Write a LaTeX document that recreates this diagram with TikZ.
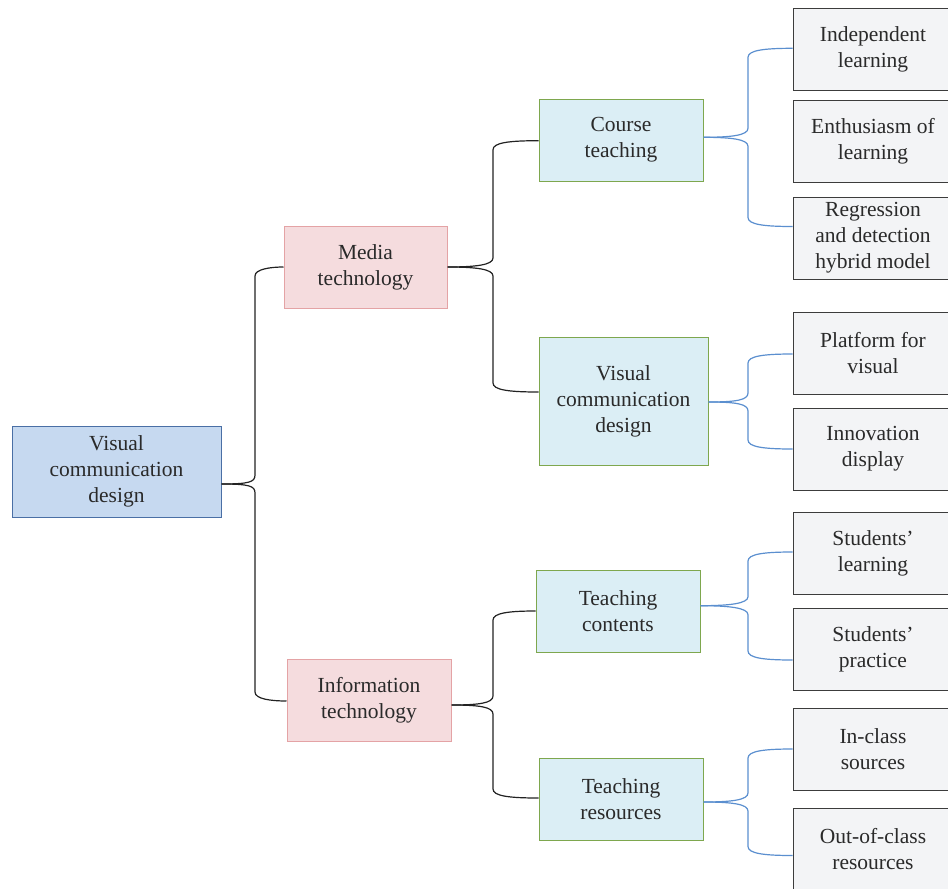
\documentclass[tikz,border=0pt]{standalone}
\usepackage{fontspec}
\setmainfont{Liberation Serif}
\usetikzlibrary{calc}
\definecolor{txt}{HTML}{2A2A2A}
\definecolor{rootfill}{HTML}{C6D9F0}
\definecolor{rootdraw}{HTML}{4A6FA5}
\definecolor{pinkfill}{HTML}{F5DCDE}
\definecolor{pinkdraw}{HTML}{E4A3A5}
\definecolor{midfill}{HTML}{DBEEF5}
\definecolor{middraw}{HTML}{7EA74E}
\definecolor{leaffill}{HTML}{F3F4F6}
\definecolor{leafdraw}{HTML}{3C3C3C}
\definecolor{blueline}{HTML}{5B8FCF}
\definecolor{blackline}{HTML}{222222}
\newcommand\brconn[6]{%
  \draw[#1] let \p1=([yshift=-#3pt]#2.east), \p2=([yshift=-#5pt]#4.west),
    \n1={sign(\y2-\y1)} in
  (\p1) .. controls (\x1+28pt,\y1) and (#6pt,\y1+\n1*2pt) .. (#6pt,\y1+\n1*9pt)
  -- (#6pt,\y2-\n1*9pt) .. controls (#6pt,\y2-\n1*2pt) and (#6pt+16pt,\y2) .. (\p2);}
\begin{document}
\begin{tikzpicture}[x=1pt,y=-1pt,
  box/.style={draw, line width=1pt, align=center, inner sep=0pt, text=txt,
    font=\fontsize{21.5}{26}\selectfont},
  rootbox/.style={box, fill=rootfill, draw=rootdraw, minimum width=209pt, minimum height=91pt},
  pinkbox/.style={box, fill=pinkfill, draw=pinkdraw, minimum width=164pt, minimum height=82pt},
  midbox/.style={box, fill=midfill, draw=middraw, minimum width=164pt, minimum height=82pt},
  leafbox/.style={box, fill=leaffill, draw=leafdraw, minimum width=160pt, minimum height=82pt},
  bk/.style={draw=blackline, line width=1.2pt},
  bl/.style={draw=blueline, line width=1.2pt}]
\useasboundingbox (0,0) rectangle (948,889);
\clip (0,0) rectangle (948,889);
% root
\node[rootbox] (root) at (116.5,471.5) {Visual\\communication\\design};
% second level
\node[pinkbox, minimum width=163pt] (media) at (365.5,267) {Media\\technology};
\node[pinkbox] (info) at (369,700.5) {Information\\technology};
% third level
\node[midbox] (course) at (621,140) {Course\\teaching};
\node[midbox, minimum width=169pt, minimum height=128pt] (vcd) at (623.5,401) {Visual\\communication\\design};
\node[midbox] (tcont) at (618,611) {Teaching\\contents};
\node[midbox] (tres) at (621,799) {Teaching\\resources};
% leaves
\node[leafbox] (l1) at (873,49) {Independent\\learning};
\node[leafbox] (l2) at (873,141) {Enthusiasm of\\learning};
\node[leafbox] (l3) at (873,238) {Regression\\and detection\\hybrid model};
\node[leafbox] (l4) at (873,353) {Platform for\\visual};
\node[leafbox] (l5) at (873,449) {Innovation\\display};
\node[leafbox] (l6) at (873,553) {Students'\\learning};
\node[leafbox] (l7) at (873,649) {Students'\\practice};
\node[leafbox] (l8) at (873,749) {In-class\\sources};
\node[leafbox] (l9) at (873,849) {Out-of-class\\resources};
% black connectors
\brconn{bk}{root}{12.5}{media}{0}{255}
\brconn{bk}{root}{12.5}{info}{0.5}{255}
\brconn{bk}{media}{0}{course}{0.7}{493}
\brconn{bk}{media}{0}{vcd}{-9}{493}
\brconn{bk}{info}{4.5}{tcont}{0}{493}
\brconn{bk}{info}{4.5}{tres}{-1}{493}
% blue connectors
\brconn{bl}{course}{-2.7}{l1}{-0.7}{748}
\brconn{bl}{course}{-2.7}{l3}{-11.5}{748}
\brconn{bl}{vcd}{1}{l4}{1}{748}
\brconn{bl}{vcd}{1}{l5}{0}{748}
\brconn{bl}{tcont}{-5.3}{l6}{-1}{748}
\brconn{bl}{tcont}{-5.3}{l7}{11}{748}
\brconn{bl}{tres}{3}{l8}{0}{748}
\brconn{bl}{tres}{3}{l9}{6.5}{748}
\end{tikzpicture}
\end{document}
